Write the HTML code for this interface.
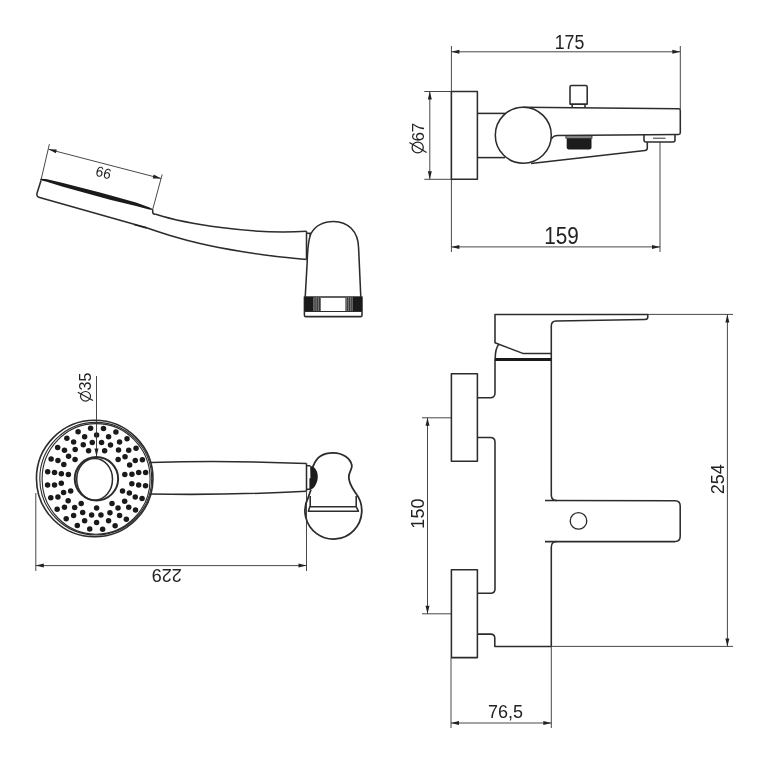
<!DOCTYPE html>
<html><head><meta charset="utf-8"><style>
html,body{margin:0;padding:0;background:#fff;}
svg{display:block;}
text{font-family:"Liberation Sans",sans-serif;fill:#222;}
svg{will-change:transform;}
</style></head><body>
<svg width="768" height="764" viewBox="0 0 768 764">
<line x1="451.4" y1="46" x2="451.4" y2="252" stroke="#333" stroke-width="0.9"/>
<line x1="680.3" y1="46" x2="680.3" y2="109" stroke="#333" stroke-width="0.9"/>
<line x1="660" y1="142" x2="660" y2="252" stroke="#333" stroke-width="0.9"/>
<line x1="451.4" y1="51.8" x2="680.3" y2="51.8" stroke="#333" stroke-width="0.9"/>
<polygon points="451.40,51.80 459.40,49.80 459.40,53.80" fill="#222"/>
<polygon points="680.30,51.80 672.30,53.80 672.30,49.80" fill="#222"/>
<text x="569.5" y="48.8" font-size="20" text-anchor="middle" textLength="29.6" lengthAdjust="spacingAndGlyphs">175</text>
<line x1="451.4" y1="246.9" x2="660" y2="246.9" stroke="#333" stroke-width="0.9"/>
<polygon points="451.40,246.90 459.40,244.90 459.40,248.90" fill="#222"/>
<polygon points="660.00,246.90 652.00,248.90 652.00,244.90" fill="#222"/>
<text x="561.5" y="243.8" font-size="23.5" text-anchor="middle" textLength="34.6" lengthAdjust="spacingAndGlyphs">159</text>
<line x1="424.3" y1="91.5" x2="451.4" y2="91.5" stroke="#333" stroke-width="0.9"/>
<line x1="424.3" y1="179.3" x2="451.4" y2="179.3" stroke="#333" stroke-width="0.9"/>
<line x1="429.8" y1="91.5" x2="429.8" y2="179.3" stroke="#333" stroke-width="0.9"/>
<polygon points="429.80,91.50 431.80,99.50 427.80,99.50" fill="#222"/>
<polygon points="429.80,179.30 427.80,171.30 431.80,171.30" fill="#222"/>
<text x="424" y="141.6" font-size="17" text-anchor="start" transform="rotate(-90 424 141.6)">67</text>
<ellipse cx="417.7" cy="147.5" rx="5.6" ry="5.45" fill="none" stroke="#222" stroke-width="1.25"/>
<line x1="409.4" y1="142.5" x2="426.6" y2="152.5" stroke="#222" stroke-width="1.25"/>
<path d="M451.4,91.5 H477.4 V179.3 H451.4 Z" stroke="#2c2c2c" stroke-width="1.55" fill="none" stroke-linejoin="round"/>
<path d="M477.4,113.4 H505" stroke="#2c2c2c" stroke-width="1.55" fill="none" stroke-linejoin="round"/>
<path d="M477.4,157.6 H505" stroke="#2c2c2c" stroke-width="1.55" fill="none" stroke-linejoin="round"/>
<circle cx="523.3" cy="135.2" r="28" fill="white" stroke="#2c2c2c" stroke-width="1.55"/>
<path d="M523,107.3 L678.6,108.7 Q680.3,108.7 680.3,110.4 V132.8 Q680.3,134.5 678.6,134.5 L557.5,135.6 Q553.5,135.7 551.3,139.2" stroke="#2c2c2c" stroke-width="1.55" fill="none" stroke-linejoin="round"/>
<path d="M531,163.4 L645,150.6 Q647.3,150.3 647.3,148 V142" stroke="#2c2c2c" stroke-width="1.55" fill="none" stroke-linejoin="round"/>
<path d="M644,134.6 V140 Q644,142 646,142 H673 Q675,142 675,140 V134.5" stroke="#2c2c2c" stroke-width="1.55" fill="none" stroke-linejoin="round"/>
<line x1="653" y1="138.2" x2="665.5" y2="138.2" stroke="#333" stroke-width="1.0"/>
<path d="M570,104.1 V87 Q570,85.5 571.5,85.5 H585.7 Q587.2,85.5 587.2,87 V104.1 Z" stroke="#2c2c2c" stroke-width="1.55" fill="none" stroke-linejoin="round"/>
<path d="M572.2,104.1 V107.8 M585,104.1 V107.9" stroke="#2c2c2c" stroke-width="1.55" fill="none" stroke-linejoin="round"/>
<rect x="565.9" y="135.9" width="26.1" height="2.2" fill="#aaa" stroke="#222" stroke-width="0.8"/>
<path d="M566.7,138.3 H591.5 V147.6 Q591.5,149.4 589.7,149.4 H568.5 Q566.7,149.4 566.7,147.6 Z" fill="#1c1c1c"/>
<line x1="49.4" y1="144.1" x2="41" y2="180" stroke="#333" stroke-width="0.9"/>
<line x1="162.2" y1="174.4" x2="152.7" y2="209.4" stroke="#333" stroke-width="0.9"/>
<line x1="48.6" y1="149.3" x2="161.0" y2="178.5" stroke="#333" stroke-width="0.9"/>
<polygon points="48.60,149.30 56.85,149.38 55.84,153.25" fill="#222"/>
<polygon points="161.00,178.50 152.75,178.42 153.76,174.55" fill="#222"/>
<text x="102.2" y="177.5" font-size="14.5" text-anchor="middle" textLength="15.3" lengthAdjust="spacingAndGlyphs" transform="rotate(15 102.2 177.5)">66</text>
<polygon points="40.4,178.8 46,179.0 62,182.8 100,192.5 110,195.3 136,202.5 149,207.3 152.7,209.0 152.7,209.9 149,209.5 136,206.1 110,199.8 100,197.0 62,186.6 46,181.6 40.4,180.2" fill="#1a1a1a"/>
<path d="M41,180.5 L37,193.3 Q36.2,196.6 39.6,197.6 L144.8,227.2" stroke="#2c2c2c" stroke-width="1.55" fill="none" stroke-linejoin="round"/>
<path d="M144.8,227.2 C149.00,228.57 160.80,232.68 170,235.4 C179.20,238.12 188.33,240.85 200,243.5 C211.67,246.15 227.25,249.13 240,251.3 C252.75,253.47 265.42,255.15 276.5,256.5 C287.58,257.85 301.50,258.92 306.5,259.4" stroke="#2c2c2c" stroke-width="1.55" fill="none" stroke-linejoin="round"/>
<polygon points="134,223.9 146.5,227.0 146.5,228.7 134,225.2" fill="#222"/>
<path d="M152.7,209.4 V212.3 Q152.9,214.1 155.8,214.3" stroke="#2c2c2c" stroke-width="1.55" fill="none" stroke-linejoin="round"/>
<path d="M155.8,214.2 C184.2,223.4 251.0,235.0 306.5,231.2" stroke="#2c2c2c" stroke-width="1.55" fill="none" stroke-linejoin="round"/>
<path d="M306.5,231.2 V259.3" stroke="#2c2c2c" stroke-width="1.55" fill="none" stroke-linejoin="round"/>
<path d="M305.2,297 L307.2,262 C307.5,250 308,240 311,233.5 C315,226 323.5,221.4 333.6,221.4 C347.5,221.4 358.3,231 358.6,248 L360.8,297" stroke="#2c2c2c" stroke-width="1.55" fill="none" stroke-linejoin="round"/>
<path d="M306.5,233.3 H311" stroke="#2c2c2c" stroke-width="1.55" fill="none" stroke-linejoin="round"/>
<polygon points="309.2,233.6 311.3,233.6 309.6,238" fill="#333"/>
<path d="M304.4,297 H362 V315.2 Q362,316.6 360.6,316.6 H305.8 Q304.4,316.6 304.4,315.2 Z" stroke="#2c2c2c" stroke-width="1.55" fill="none" stroke-linejoin="round"/>
<rect x="304.4" y="297" width="9" height="14.5" fill="#1a1a1a"/>
<rect x="353" y="297" width="9" height="14.5" fill="#1a1a1a"/>
<rect x="313.4" y="297" width="7.6" height="14.5" fill="#3a3a3a"/>
<rect x="345.4" y="297" width="7.6" height="14.5" fill="#3a3a3a"/>
<rect x="314.6" y="297" width="0.7" height="14.5" fill="#8a8a8a"/>
<rect x="316.4" y="297" width="0.7" height="14.5" fill="#8a8a8a"/>
<rect x="318.2" y="297" width="0.7" height="14.5" fill="#8a8a8a"/>
<rect x="320" y="297" width="0.7" height="14.5" fill="#8a8a8a"/>
<rect x="346.4" y="297" width="0.7" height="14.5" fill="#8a8a8a"/>
<rect x="348.2" y="297" width="0.7" height="14.5" fill="#8a8a8a"/>
<rect x="350" y="297" width="0.7" height="14.5" fill="#8a8a8a"/>
<rect x="351.8" y="297" width="0.7" height="14.5" fill="#8a8a8a"/>
<line x1="304.4" y1="311.5" x2="362" y2="311.5" stroke="#2c2c2c" stroke-width="1.2"/>
<path d="M150.6,462.4 Q228,460.2 306.5,463.5" stroke="#2c2c2c" stroke-width="1.55" fill="none" stroke-linejoin="round"/>
<path d="M150.6,493.9 Q220,495.6 306.5,491.3" stroke="#2c2c2c" stroke-width="1.55" fill="none" stroke-linejoin="round"/>
<path d="M306.5,463.4 V491.5" stroke="#2c2c2c" stroke-width="1.55" fill="none" stroke-linejoin="round"/>
<path d="M312.6,467 L313.6,465.3 C316.6,457 324,452.9 333,452.9 C343,452.9 350.5,458.5 351.8,465.2 C352.4,469.5 348.8,472 348.8,477 C348.8,484 353,489 356,493.5 A28.4,28.4 0 1 1 308.2,497.5 L311,489.5" stroke="#2c2c2c" stroke-width="1.8" fill="none" stroke-linejoin="round"/>
<path d="M310.2,496 V506.8 M356.2,496 V506.8" stroke="#2c2c2c" stroke-width="1.55" fill="none" stroke-linejoin="round"/>
<path d="M309.8,506.8 H356.3 L358.4,511.2 H308.4 Z" stroke="#2c2c2c" stroke-width="1.55" fill="none" stroke-linejoin="round"/>
<path d="M306.5,465.7 H310.5 M306.5,489.2 H310.5" stroke="#2c2c2c" stroke-width="1.55" fill="none" stroke-linejoin="round"/>
<path d="M310.2,466 C313,466 317.8,469 317.8,476.5 C317.8,483 314,489.2 310.6,489.2 L309.4,489 V478.5 L310.4,478 Z" fill="#1c1c1c"/>
<circle cx="94.7" cy="478.55" r="58.25" fill="none" stroke="#2c2c2c" stroke-width="1.6"/>
<ellipse cx="95.75" cy="478.7" rx="55.95" ry="56.3" fill="none" stroke="#2c2c2c" stroke-width="1.1"/>
<ellipse cx="96.1" cy="478.9" rx="54.0" ry="55.3" fill="none" stroke="#2c2c2c" stroke-width="1.1"/>
<circle cx="96.60" cy="508.05" r="2.75" fill="#1a1a1a"/>
<circle cx="81.19" cy="503.40" r="2.75" fill="#1a1a1a"/>
<circle cx="70.68" cy="490.92" r="2.75" fill="#1a1a1a"/>
<circle cx="68.39" cy="474.58" r="2.75" fill="#1a1a1a"/>
<circle cx="75.06" cy="459.56" r="2.75" fill="#1a1a1a"/>
<circle cx="88.57" cy="450.64" r="2.75" fill="#1a1a1a"/>
<circle cx="104.63" cy="450.64" r="2.75" fill="#1a1a1a"/>
<circle cx="118.14" cy="459.56" r="2.75" fill="#1a1a1a"/>
<circle cx="124.81" cy="474.58" r="2.75" fill="#1a1a1a"/>
<circle cx="122.52" cy="490.92" r="2.75" fill="#1a1a1a"/>
<circle cx="112.01" cy="503.40" r="2.75" fill="#1a1a1a"/>
<circle cx="131.85" cy="483.84" r="2.75" fill="#1a1a1a"/>
<circle cx="129.37" cy="493.05" r="2.75" fill="#1a1a1a"/>
<circle cx="124.65" cy="501.28" r="2.75" fill="#1a1a1a"/>
<circle cx="118.02" cy="507.98" r="2.75" fill="#1a1a1a"/>
<circle cx="109.94" cy="512.68" r="2.75" fill="#1a1a1a"/>
<circle cx="100.94" cy="515.07" r="2.75" fill="#1a1a1a"/>
<circle cx="91.65" cy="514.99" r="2.75" fill="#1a1a1a"/>
<circle cx="82.69" cy="512.44" r="2.75" fill="#1a1a1a"/>
<circle cx="74.68" cy="507.59" r="2.75" fill="#1a1a1a"/>
<circle cx="68.17" cy="500.77" r="2.75" fill="#1a1a1a"/>
<circle cx="63.59" cy="492.46" r="2.75" fill="#1a1a1a"/>
<circle cx="61.27" cy="483.21" r="2.75" fill="#1a1a1a"/>
<circle cx="61.35" cy="473.66" r="2.75" fill="#1a1a1a"/>
<circle cx="63.83" cy="464.45" r="2.75" fill="#1a1a1a"/>
<circle cx="68.55" cy="456.22" r="2.75" fill="#1a1a1a"/>
<circle cx="75.18" cy="449.52" r="2.75" fill="#1a1a1a"/>
<circle cx="83.26" cy="444.82" r="2.75" fill="#1a1a1a"/>
<circle cx="92.26" cy="442.43" r="2.75" fill="#1a1a1a"/>
<circle cx="101.55" cy="442.51" r="2.75" fill="#1a1a1a"/>
<circle cx="110.51" cy="445.06" r="2.75" fill="#1a1a1a"/>
<circle cx="118.52" cy="449.91" r="2.75" fill="#1a1a1a"/>
<circle cx="125.03" cy="456.73" r="2.75" fill="#1a1a1a"/>
<circle cx="129.61" cy="465.04" r="2.75" fill="#1a1a1a"/>
<circle cx="131.93" cy="474.29" r="2.75" fill="#1a1a1a"/>
<circle cx="96.60" cy="522.44" r="2.75" fill="#1a1a1a"/>
<circle cx="84.63" cy="520.67" r="2.75" fill="#1a1a1a"/>
<circle cx="73.62" cy="515.50" r="2.75" fill="#1a1a1a"/>
<circle cx="64.48" cy="507.36" r="2.75" fill="#1a1a1a"/>
<circle cx="57.94" cy="496.90" r="2.75" fill="#1a1a1a"/>
<circle cx="54.53" cy="484.97" r="2.75" fill="#1a1a1a"/>
<circle cx="54.53" cy="472.53" r="2.75" fill="#1a1a1a"/>
<circle cx="57.94" cy="460.60" r="2.75" fill="#1a1a1a"/>
<circle cx="64.48" cy="450.14" r="2.75" fill="#1a1a1a"/>
<circle cx="73.62" cy="442.00" r="2.75" fill="#1a1a1a"/>
<circle cx="84.63" cy="436.83" r="2.75" fill="#1a1a1a"/>
<circle cx="96.60" cy="435.06" r="2.75" fill="#1a1a1a"/>
<circle cx="108.57" cy="436.83" r="2.75" fill="#1a1a1a"/>
<circle cx="119.58" cy="442.00" r="2.75" fill="#1a1a1a"/>
<circle cx="128.72" cy="450.14" r="2.75" fill="#1a1a1a"/>
<circle cx="135.26" cy="460.60" r="2.75" fill="#1a1a1a"/>
<circle cx="138.67" cy="472.53" r="2.75" fill="#1a1a1a"/>
<circle cx="138.67" cy="484.97" r="2.75" fill="#1a1a1a"/>
<circle cx="135.26" cy="496.90" r="2.75" fill="#1a1a1a"/>
<circle cx="128.72" cy="507.36" r="2.75" fill="#1a1a1a"/>
<circle cx="119.58" cy="515.50" r="2.75" fill="#1a1a1a"/>
<circle cx="108.57" cy="520.67" r="2.75" fill="#1a1a1a"/>
<circle cx="145.52" cy="485.82" r="2.75" fill="#1a1a1a"/>
<circle cx="142.07" cy="498.59" r="2.75" fill="#1a1a1a"/>
<circle cx="135.53" cy="510.02" r="2.75" fill="#1a1a1a"/>
<circle cx="126.33" cy="519.31" r="2.75" fill="#1a1a1a"/>
<circle cx="115.11" cy="525.84" r="2.75" fill="#1a1a1a"/>
<circle cx="102.62" cy="529.15" r="2.75" fill="#1a1a1a"/>
<circle cx="89.72" cy="529.04" r="2.75" fill="#1a1a1a"/>
<circle cx="77.30" cy="525.50" r="2.75" fill="#1a1a1a"/>
<circle cx="66.19" cy="518.77" r="2.75" fill="#1a1a1a"/>
<circle cx="57.15" cy="509.31" r="2.75" fill="#1a1a1a"/>
<circle cx="50.80" cy="497.77" r="2.75" fill="#1a1a1a"/>
<circle cx="47.57" cy="484.94" r="2.75" fill="#1a1a1a"/>
<circle cx="47.68" cy="471.68" r="2.75" fill="#1a1a1a"/>
<circle cx="51.13" cy="458.91" r="2.75" fill="#1a1a1a"/>
<circle cx="57.67" cy="447.48" r="2.75" fill="#1a1a1a"/>
<circle cx="66.87" cy="438.19" r="2.75" fill="#1a1a1a"/>
<circle cx="78.09" cy="431.66" r="2.75" fill="#1a1a1a"/>
<circle cx="90.58" cy="428.35" r="2.75" fill="#1a1a1a"/>
<circle cx="103.48" cy="428.46" r="2.75" fill="#1a1a1a"/>
<circle cx="115.90" cy="432.00" r="2.75" fill="#1a1a1a"/>
<circle cx="127.01" cy="438.73" r="2.75" fill="#1a1a1a"/>
<circle cx="136.05" cy="448.19" r="2.75" fill="#1a1a1a"/>
<circle cx="142.40" cy="459.73" r="2.75" fill="#1a1a1a"/>
<circle cx="145.63" cy="472.56" r="2.75" fill="#1a1a1a"/>
<circle cx="96.45" cy="478.8" r="21.7" fill="none" stroke="#2c2c2c" stroke-width="2"/>
<ellipse cx="94.6" cy="479.3" rx="17.9" ry="20.9" fill="none" stroke="#2c2c2c" stroke-width="1.5"/>
<line x1="96.5" y1="376" x2="96.5" y2="456.5" stroke="#333" stroke-width="0.9"/>
<polygon points="96.50,456.50 94.50,448.50 98.50,448.50" fill="#222"/>
<text x="91.3" y="390.5" font-size="16" text-anchor="start" transform="rotate(-90 91.3 390.5)">35</text>
<ellipse cx="85.5" cy="396.3" rx="5.0" ry="4.8" fill="none" stroke="#222" stroke-width="1.15"/>
<line x1="77.8" y1="392.3" x2="93" y2="400.4" stroke="#222" stroke-width="1.15"/>
<line x1="35.8" y1="493" x2="35.8" y2="571" stroke="#333" stroke-width="0.9"/>
<line x1="306.5" y1="492" x2="306.5" y2="571" stroke="#333" stroke-width="0.9"/>
<line x1="35.8" y1="565.6" x2="306.5" y2="565.6" stroke="#333" stroke-width="0.9"/>
<polygon points="35.80,565.60 43.80,563.60 43.80,567.60" fill="#222"/>
<polygon points="306.50,565.60 298.50,567.60 298.50,563.60" fill="#222"/>
<text x="166.8" y="569" font-size="18" text-anchor="middle" transform="rotate(180 166.8 569)">229</text>
<path d="M451.4,373.8 H477.4 V461.3 H451.4 Z" stroke="#2c2c2c" stroke-width="1.55" fill="none" stroke-linejoin="round"/>
<path d="M451.4,569.7 H477.4 V657.6 H451.4 Z" stroke="#2c2c2c" stroke-width="1.55" fill="none" stroke-linejoin="round"/>
<path d="M495,359 V393 Q495,397.7 490.3,397.7 H477.4" stroke="#2c2c2c" stroke-width="1.55" fill="none" stroke-linejoin="round"/>
<path d="M477.4,437.4 H490.3 Q495,437.4 495,442 V589 Q495,593.2 490.8,593.2 H477.4" stroke="#2c2c2c" stroke-width="1.55" fill="none" stroke-linejoin="round"/>
<path d="M477.4,634.1 H490.6 Q494.8,634.1 494.8,638.3 V646.4 H551" stroke="#2c2c2c" stroke-width="1.55" fill="none" stroke-linejoin="round"/>
<path d="M551.3,646.4 V547.3 Q551.3,541.7 556.8,541.6" stroke="#2c2c2c" stroke-width="1.55" fill="none" stroke-linejoin="round"/>
<path d="M545,541.6 H675.2 Q680.2,541.2 680.2,536.2 V506 Q680.2,501 675.2,500.8 L545,500.4" stroke="#2c2c2c" stroke-width="1.55" fill="none" stroke-linejoin="round"/>
<path d="M556.8,500.6 Q551.3,500.5 551.3,495 V326 Q551.3,321.2 556,321 L645,319.6 Q647.8,319.5 647.8,317 V314.4 H495 V342.8 L522.8,353.4 H551.3" stroke="#2c2c2c" stroke-width="1.55" fill="none" stroke-linejoin="round"/>
<circle cx="578.5" cy="520.9" r="8.3" fill="none" stroke="#2c2c2c" stroke-width="1.3"/>
<path d="M498.8,344.3 C496.5,347 495.2,351 495.2,359" stroke="#2c2c2c" stroke-width="1.55" fill="none" stroke-linejoin="round"/>
<line x1="495" y1="359.4" x2="551.3" y2="359.4" stroke="#1a1a1a" stroke-width="3"/>
<line x1="647.8" y1="314.4" x2="733" y2="314.4" stroke="#333" stroke-width="0.9"/>
<line x1="551" y1="646.4" x2="733" y2="646.4" stroke="#333" stroke-width="0.9"/>
<line x1="727.4" y1="314.4" x2="727.4" y2="646.4" stroke="#333" stroke-width="0.9"/>
<polygon points="727.40,314.40 729.40,322.40 725.40,322.40" fill="#222"/>
<polygon points="727.40,646.40 725.40,638.40 729.40,638.40" fill="#222"/>
<text x="723.9" y="479.2" font-size="18" text-anchor="middle" transform="rotate(-90 723.9 479.2)">254</text>
<line x1="422" y1="417.8" x2="451.4" y2="417.8" stroke="#333" stroke-width="0.9"/>
<line x1="422" y1="613.8" x2="451.4" y2="613.8" stroke="#333" stroke-width="0.9"/>
<line x1="427.5" y1="417.8" x2="427.5" y2="613.8" stroke="#333" stroke-width="0.9"/>
<polygon points="427.50,417.80 429.50,425.80 425.50,425.80" fill="#222"/>
<polygon points="427.50,613.80 425.50,605.80 429.50,605.80" fill="#222"/>
<text x="424.3" y="513.6" font-size="18" text-anchor="middle" transform="rotate(-90 424.3 513.6)">150</text>
<line x1="451" y1="657.6" x2="451" y2="728" stroke="#333" stroke-width="0.9"/>
<line x1="551.3" y1="646.4" x2="551.3" y2="728" stroke="#333" stroke-width="0.9"/>
<line x1="451" y1="723" x2="551.3" y2="723" stroke="#333" stroke-width="0.9"/>
<polygon points="451.00,723.00 459.00,721.00 459.00,725.00" fill="#222"/>
<polygon points="551.30,723.00 543.30,725.00 543.30,721.00" fill="#222"/>
<text x="505.4" y="717.9" font-size="18" text-anchor="middle">76,5</text>
</svg></body></html>
